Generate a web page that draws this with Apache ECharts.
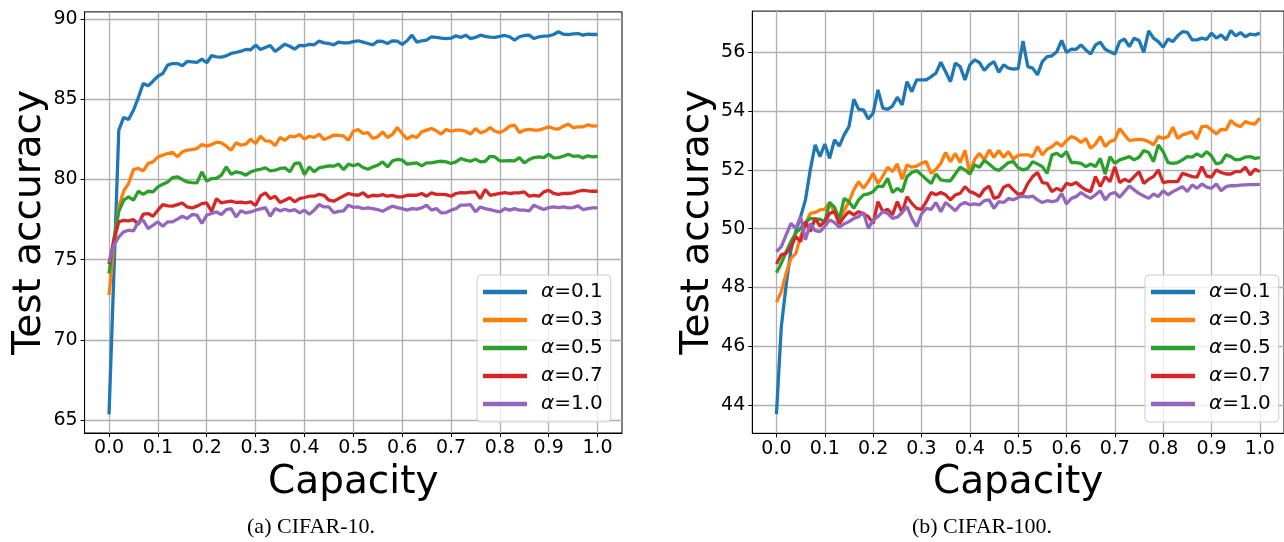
<!DOCTYPE html>
<html>
<head>
<meta charset="utf-8">
<script src="https://cdn.jsdelivr.net/npm/echarts@6/dist/echarts.min.js"></script>
<style>
html,body{margin:0;padding:0;background:#fff;}
#chart{width:1284px;height:542px;}
</style>
</head>
<body>
<div id="chart"></div>
<script>
// ---- data ----
const capacity = [0.00,0.01,0.02,0.03,0.04,0.05,0.06,0.07,0.08,0.09,
0.10,0.11,0.12,0.13,0.14,0.15,0.16,0.17,0.18,0.19,
0.20,0.21,0.22,0.23,0.24,0.25,0.26,0.27,0.28,0.29,
0.30,0.31,0.32,0.33,0.34,0.35,0.36,0.37,0.38,0.39,
0.40,0.41,0.42,0.43,0.44,0.45,0.46,0.47,0.48,0.49,
0.50,0.51,0.52,0.53,0.54,0.55,0.56,0.57,0.58,0.59,
0.60,0.61,0.62,0.63,0.64,0.65,0.66,0.67,0.68,0.69,
0.70,0.71,0.72,0.73,0.74,0.75,0.76,0.77,0.78,0.79,
0.80,0.81,0.82,0.83,0.84,0.85,0.86,0.87,0.88,0.89,
0.90,0.91,0.92,0.93,0.94,0.95,0.96,0.97,0.98,0.99,
1.00];

const seriesNames = ['α=0.1','α=0.3','α=0.5','α=0.7','α=1.0'];
const xTicks = [0.0,0.1,0.2,0.3,0.4,0.5,0.6,0.7,0.8,0.9,1.0];
const yTicksA = [65,70,75,80,85,90];
const yTicksB = [44,46,48,50,52,54,56];
const panelTitles = ['(a) CIFAR-10.','(b) CIFAR-100.'];
const xLabel = 'Capacity';
const yLabel = 'Test accuracy';

// CIFAR-10
const cifar10_a01 = [65.35,74.2,83.07,83.86,83.73,84.31,85.10,85.98,85.83,86.12,
86.43,86.60,87.12,87.22,87.22,87.08,87.35,87.33,87.29,87.50,
87.27,87.72,87.64,87.62,87.70,87.85,87.91,87.99,88.10,88.08,
88.37,88.10,88.22,88.35,87.97,88.20,88.43,88.30,88.12,88.35,
88.33,88.41,88.39,88.62,88.51,88.47,88.39,88.56,88.51,88.51,
88.59,88.64,88.56,88.47,88.39,88.62,88.60,88.47,88.64,88.62,
88.41,88.64,88.99,88.56,88.64,88.68,88.89,88.85,88.80,88.78,
88.80,88.95,88.85,88.99,88.78,88.85,88.99,88.91,88.87,88.85,
88.91,88.97,88.89,88.68,88.89,88.97,88.99,88.78,88.89,88.93,
88.95,89.03,89.20,89.05,89.03,89.07,89.09,88.99,89.05,89.03,
89.03];
const cifar10_a03 = [72.79,76.0,78.28,79.28,79.74,80.61,80.68,80.53,80.99,81.09,
81.40,81.51,81.61,81.69,81.40,81.72,81.82,81.86,81.92,82.17,
82.07,82.17,82.32,82.28,82.07,81.82,82.28,82.13,82.19,82.51,
82.23,82.69,82.40,82.38,82.11,82.61,82.44,82.69,82.65,82.80,
82.51,82.69,82.61,82.82,82.48,82.61,82.75,82.75,82.71,82.44,
83.00,83.11,82.86,82.92,82.55,82.65,82.96,82.61,82.80,83.23,
82.86,82.51,82.71,82.61,82.96,83.07,83.17,83.03,82.82,83.11,
83.00,83.07,83.07,83.00,82.82,83.17,82.90,83.00,83.23,83.00,
82.92,83.07,83.32,83.38,82.92,83.07,83.11,83.07,83.07,83.17,
83.27,83.17,83.13,83.32,83.44,83.23,83.27,83.27,83.40,83.32,
83.34];
const cifar10_a05 = [74.14,76.3,78.0,78.70,78.91,78.70,79.26,79.07,79.26,79.22,
79.53,79.70,79.84,80.11,80.16,79.99,79.84,79.80,79.78,80.47,
79.89,80.05,80.07,80.26,80.78,80.32,80.47,80.41,80.26,80.47,
80.57,80.63,80.72,80.53,80.57,80.68,80.72,80.47,80.99,81.03,
80.30,80.78,80.47,80.72,80.78,80.84,80.82,80.95,80.61,80.95,
80.85,80.95,80.74,80.63,80.78,80.88,81.09,80.78,81.15,81.24,
81.20,80.95,80.99,81.03,80.84,81.03,81.03,81.09,81.13,81.09,
80.99,81.09,81.30,81.20,81.13,81.26,81.09,81.13,81.44,81.40,
81.15,81.15,81.17,81.15,81.36,81.03,81.24,81.36,81.40,81.36,
81.57,81.34,81.36,81.44,81.57,81.44,81.47,81.34,81.47,81.40,
81.44];
const cifar10_a07 = [74.72,76.2,77.35,77.45,77.41,77.49,77.20,77.83,77.87,77.70,
78.08,78.43,78.35,78.33,78.43,78.53,78.28,78.22,78.33,78.49,
78.53,78.01,78.80,78.53,78.60,78.64,78.56,78.58,78.53,78.60,
78.37,78.97,79.16,78.80,78.95,78.56,78.70,78.85,78.60,78.80,
78.87,78.95,78.95,79.07,79.01,78.70,78.64,78.80,78.97,79.12,
79.05,79.01,79.16,78.91,79.01,78.97,79.05,78.95,79.01,78.91,
78.91,79.01,79.01,79.01,79.12,78.95,79.16,79.07,79.07,79.05,
78.95,79.12,79.18,79.16,79.20,79.22,78.80,79.37,79.01,79.07,
79.12,79.18,79.12,79.16,79.16,79.22,78.95,79.01,78.95,79.22,
79.32,79.12,79.07,79.12,79.12,79.16,79.26,79.32,79.28,79.26,
79.26];
const cifar10_a10 = [74.83,75.9,76.41,76.73,76.83,76.79,77.35,77.45,76.93,77.14,
77.35,77.08,77.35,77.35,77.52,77.70,77.56,77.81,77.77,77.25,
77.77,77.87,77.97,77.81,78.12,78.18,77.66,78.04,77.91,77.97,
78.08,78.16,78.24,77.70,78.18,78.04,78.14,78.04,78.12,77.91,
78.08,77.83,78.08,78.43,78.28,78.28,77.93,78.01,78.04,78.39,
78.26,78.28,78.18,78.22,78.18,78.12,78.01,78.18,78.33,78.24,
78.18,78.08,78.18,78.14,78.22,78.39,78.08,78.18,77.91,77.93,
78.08,78.18,78.39,78.39,78.43,77.97,78.28,78.18,78.12,78.04,
77.97,78.18,78.08,78.18,78.08,78.08,78.04,78.39,78.24,78.12,
78.24,78.28,78.24,78.28,78.22,78.24,78.35,78.12,78.18,78.22,
78.22];

// CIFAR-100
const cifar100_a01 = [43.69,46.67,48.08,49.28,49.90,50.41,50.98,52.00,52.85,52.45,
52.88,52.39,53.02,52.81,53.19,53.47,54.40,54.06,54.04,53.73,
53.93,54.72,54.10,54.06,54.17,54.47,54.21,55.00,54.66,55.06,
55.06,55.06,55.17,55.29,55.66,55.34,55.00,55.63,55.51,55.06,
55.57,55.74,55.65,55.38,55.57,55.68,55.32,55.57,55.46,55.43,
55.44,56.38,55.51,55.46,55.23,55.68,55.85,55.88,56.02,56.40,
56.00,56.11,56.10,56.25,56.08,55.94,56.25,56.34,56.10,56.02,
55.94,56.36,56.45,56.19,56.48,56.40,56.00,56.73,56.48,56.36,
56.17,56.45,56.36,56.56,56.70,56.68,56.42,56.42,56.48,56.44,
56.65,56.48,56.59,56.42,56.74,56.56,56.67,56.53,56.62,56.59,
56.65];
const cifar100_a03 = [47.50,47.86,48.48,48.99,49.16,49.73,50.16,50.52,50.55,50.64,
50.66,50.89,50.55,50.35,50.61,50.92,51.32,51.60,51.37,51.60,
51.88,51.54,51.79,52.09,51.94,52.20,51.68,52.17,52.09,52.13,
52.22,52.28,51.88,52.02,52.22,52.59,52.28,52.56,52.25,52.66,
51.88,52.36,52.56,52.34,52.68,52.43,52.66,52.43,52.62,52.36,
52.50,52.51,52.51,52.45,52.79,52.51,52.70,52.79,52.93,52.81,
53.00,53.13,53.07,52.93,53.07,52.73,52.88,53.13,52.79,52.96,
53.02,53.41,53.19,53.00,53.02,53.04,53.02,52.96,52.85,53.13,
53.07,53.13,53.45,53.07,53.19,53.24,53.30,53.05,53.47,53.49,
53.36,53.22,53.38,53.36,53.68,53.53,53.47,53.64,53.58,53.56,
53.76];
const cifar100_a05 = [48.50,48.82,49.22,49.56,49.85,50.01,50.21,50.35,50.33,50.32,
50.24,50.89,50.73,50.32,51.03,50.92,50.69,50.98,51.15,51.18,
51.26,51.45,51.43,51.71,51.23,51.37,51.26,51.77,51.91,51.98,
51.83,51.68,51.54,51.86,51.66,51.63,51.63,51.86,52.09,52.00,
51.86,52.17,52.09,52.32,52.20,52.05,51.98,52.11,52.25,52.28,
52.07,52.00,52.05,52.28,52.20,52.11,51.88,52.51,52.56,52.45,
52.62,52.25,52.25,52.22,52.11,52.20,52.11,52.39,51.86,52.45,
52.22,52.34,52.39,52.45,52.34,52.43,52.66,52.59,52.28,52.85,
52.62,52.25,52.22,52.25,52.34,52.45,52.43,52.54,52.45,52.62,
52.47,52.20,52.25,52.51,52.45,52.34,52.36,52.43,52.45,52.39,
52.42];
const cifar100_a07 = [48.80,49.11,49.16,49.39,49.73,49.56,50.24,49.90,50.35,50.09,
50.24,50.52,50.58,50.16,50.41,50.58,50.47,50.58,50.50,50.41,
50.18,50.92,50.58,50.66,50.47,50.92,50.55,51.09,50.86,50.69,
50.66,50.92,51.23,51.15,51.23,51.15,50.98,51.15,51.20,51.43,
51.26,51.20,51.09,51.34,51.45,51.03,51.09,51.41,51.49,51.32,
51.17,51.20,51.54,51.77,51.91,51.57,51.54,51.26,51.37,51.29,
51.54,51.49,51.57,51.43,51.32,51.26,51.77,51.43,51.77,51.60,
52.11,51.57,51.68,51.60,51.77,51.94,51.54,51.68,51.77,52.00,
51.57,51.60,51.60,51.60,51.88,51.83,51.77,51.75,52.11,51.79,
51.75,52.00,51.91,51.86,51.86,51.94,51.94,52.09,51.83,52.02,
51.94];
const cifar100_a10 = [49.22,49.39,49.79,50.18,50.01,50.41,49.62,50.18,49.93,49.90,
50.07,50.30,50.21,50.05,50.16,50.24,50.35,50.41,50.55,50.01,
50.30,50.41,50.58,50.52,50.35,50.39,50.55,50.75,50.35,50.07,
50.50,50.69,50.66,50.89,50.58,50.89,50.75,50.61,50.81,50.89,
50.81,50.84,50.81,50.95,50.98,50.69,50.92,50.89,51.03,50.98,
51.06,51.11,51.07,51.11,50.98,50.89,50.95,50.92,50.95,51.20,
50.84,51.03,51.09,51.23,51.11,51.03,51.15,51.29,50.98,51.18,
51.23,51.07,51.26,51.45,51.32,51.20,51.11,51.03,51.18,51.09,
51.29,51.15,51.26,51.34,51.43,51.26,51.49,51.37,51.52,51.41,
51.37,51.52,51.29,51.43,51.46,51.46,51.48,51.49,51.50,51.50,
51.51];

// ---- chart ----
const colors = ['#1f77b4','#ff7f0e','#2ca02c','#d62728','#9467bd'];
const panels = [
  [cifar10_a01,cifar10_a03,cifar10_a05,cifar10_a07,cifar10_a10],
  [cifar100_a01,cifar100_a03,cifar100_a05,cifar100_a07,cifar100_a10]
];
const FONT = 'DejaVu Sans';

function xAxisFor(gi){
  return {
    type:'value', gridIndex:gi, min:-0.05, max:1.05,
    name: xLabel, nameLocation:'middle', nameGap:25,
    nameTextStyle:{fontFamily:FONT,fontSize:39,color:'#000'},
    axisLine:{show:true,onZero:false,lineStyle:{color:'#000',width:1}},
    axisTick:{show:true,inside:false,length:4,customValues:xTicks,lineStyle:{color:'#000',width:1}},
    axisLabel:{customValues:xTicks,margin:6,fontFamily:FONT,fontSize:19,color:'#000',
      formatter:v=>Number(v).toFixed(1)},
    splitLine:{show:true,lineStyle:{color:'#b0b0b0',width:1.3}}
  };
}
function yAxisFor(gi,min,max,ticks){
  return {
    type:'value', gridIndex:gi, min:min, max:max,
    name: yLabel, nameLocation:'middle', nameGap:32, nameRotate:90,
    nameTextStyle:{fontFamily:FONT,fontSize:39,color:'#000'},
    axisLine:{show:true,onZero:false,lineStyle:{color:'#000',width:1}},
    axisTick:{show:true,inside:false,length:4,customValues:ticks,lineStyle:{color:'#000',width:1}},
    axisLabel:{customValues:ticks,margin:7,fontFamily:FONT,fontSize:19,color:'#000',
      formatter:v=>String(v)},
    splitLine:{show:true,lineStyle:{color:'#b0b0b0',width:1.3}}
  };
}
function legendFor(left){
  return {
    show:true, orient:'vertical', left:left, top:275,
    data: seriesNames, icon:'rect', itemWidth:44, itemHeight:4.5, itemGap:6,
    padding:[6,8,7,6], borderColor:'#cccccc', borderWidth:1, borderRadius:4,
    backgroundColor:'rgba(255,255,255,0.8)',
    selectedMode:false,
    formatter: name => '{i|α}{n|' + name.slice(1) + '}',
    textStyle:{fontFamily:FONT,fontSize:20,color:'#000',lineHeight:22,
      rich:{
        i:{fontFamily:FONT,fontSize:20,fontStyle:'italic',color:'#000',padding:[0,0,0,9]},
        n:{fontFamily:FONT,fontSize:20,color:'#000'}
      }}
  };
}

const series = [];
panels.forEach((vals,gi)=>{
  vals.forEach((arr,k)=>{
    series.push({
      type:'line', name:seriesNames[k], xAxisIndex:gi, yAxisIndex:gi,
      data: capacity.map((c,i)=>[c,arr[i]]),
      symbol:'none', showSymbol:false, smooth:false,
      lineStyle:{color:colors[k],width:3.3}, itemStyle:{color:colors[k]},
      emphasis:{disabled:true}, silent:true, animation:false
    });
  });
});

const chart = echarts.init(document.getElementById('chart'),null,{renderer:'canvas',width:1284,height:542});
chart.setOption({
  animation:false,
  backgroundColor:'#ffffff',
  color:colors,
  grid:[
    {left:84.6, top:11.9, width:537.4, height:421.1, show:true, borderColor:'#000', borderWidth:1, backgroundColor:'transparent', containLabel:false},
    {left:752.3, top:11.1, width:536.3, height:422.2, show:true, borderColor:'#000', borderWidth:1, backgroundColor:'transparent', containLabel:false}
  ],
  xAxis:[xAxisFor(0), xAxisFor(1)],
  yAxis:[yAxisFor(0,64.19,90.44,yTicksA), yAxisFor(1,43.04,57.40,yTicksB)],
  legend:[legendFor(477), legendFor(1145)],
  series: series,
  graphic:[
    {type:'text', x:0, y:0, style:{text:panelTitles[0], x:311, y:527, textAlign:'center', textVerticalAlign:'middle', fontFamily:'Liberation Serif', fontSize:22, fill:'#000'}},
    {type:'text', x:0, y:0, style:{text:panelTitles[1], x:982, y:527, textAlign:'center', textVerticalAlign:'middle', fontFamily:'Liberation Serif', fontSize:22, fill:'#000'}}
  ]
});
</script>
</body>
</html>
